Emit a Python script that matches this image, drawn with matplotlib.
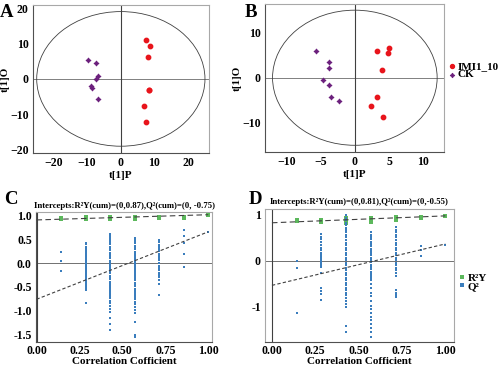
import matplotlib
matplotlib.use('Agg')
import matplotlib.pyplot as plt
from matplotlib.patches import Ellipse

plt.rcParams['font.family'] = ['Liberation Serif', 'DejaVu Serif']
plt.rcParams['font.weight'] = 'bold'

# ---- score plots (OPLS-DA) ----
a_imi_x = [7.4, 8.6, 8.0, 8.3, 8.5, 7.0, 7.5]
a_imi_y = [11.0, 9.2, 6.2, -3.0, -3.2, -7.6, -12.2]
a_ck_x = [-9.9, -7.3, -6.8, -7.3, -9.0, -8.6, -6.9]
a_ck_y = [5.3, 4.4, 0.75, 0.0, -1.9, -2.5, -5.8]

b_imi_x = [3.2, 5.0, 4.9, 3.9, 3.2, 2.4, 4.1]
b_imi_y = [5.9, 6.6, 5.6, 1.8, -4.4, -6.3, -8.8]
b_ck_x = [-5.7, -3.8, -3.7, -4.7, -3.8, -3.5, -2.3]
b_ck_y = [5.9, 3.6, 2.2, -0.4, -1.7, -4.4, -5.1]

# Hotelling ellipse half widths
a_ellipse = (25.0, 19.0)
b_ellipse = (12.0, 15.1)

# ---- permutation tests ----
corr = [1/7, 2/7, 3/7, 4/7, 5/7, 6/7, 1.0]

c_r2y = [[0.94, 0.95], [0.93, 0.95, 0.97], [0.93, 0.95, 0.97], [0.94, 0.96, 0.98],
         [0.95, 0.97], [0.96, 0.98], [1.01]]
c_q2 = [[0.23, 0.04, -0.16],
        [0.43, 0.40, 0.35, 0.31, 0.27, 0.24, 0.19, 0.16, 0.12, 0.08, 0.05, 0.01, -0.03, -0.07,
         -0.10, -0.15, -0.19, -0.22, -0.27, -0.31, -0.35, -0.40, -0.43, -0.48, -0.52, -0.57, -0.83],
        [0.61, 0.57, 0.53, 0.48, 0.44, 0.40, 0.35, 0.31, 0.27, 0.22, 0.18, 0.14, 0.10, 0.05, 0.01,
         -0.04, -0.08, -0.12, -0.17, -0.21, -0.26, -0.30, -0.34, -0.39, -0.43, -0.47, -0.52, -0.56,
         -0.61, -0.65, -0.70, -0.74, -0.79, -0.84, -0.90, -0.96, -1.03, -1.15, -1.27, -1.41],
        [0.54, 0.50, 0.46, 0.42, 0.37, 0.33, 0.29, 0.24, 0.20, 0.16, 0.11, 0.07, 0.03, -0.02,
         -0.06, -0.10, -0.15, -0.19, -0.23, -0.28, -0.32, -0.36, -0.41, -0.45, -0.49, -0.54,
         -0.58, -0.62, -0.67, -0.71, -0.76, -0.81, -0.86, -0.92, -0.98, -1.04, -1.24, -1.52, -1.55],
        [0.49, 0.44, 0.39, 0.34, 0.30, 0.25, 0.20, 0.15, 0.10, 0.06, 0.01, -0.05, -0.10, -0.15,
         -0.20, -0.25, -0.30, -0.36, -0.43, -0.68],
        [0.70, 0.57, 0.42, 0.19, -0.08],
        [0.65]]
c_r2y_line = (0.91, 1.02)   # value at x=0 and x=1
c_q2_line = (-0.76, 0.66)

d_r2y = [[0.85, 0.88], [0.84, 0.87, 0.89], [0.82, 0.86, 0.90, 0.93], [0.84, 0.88, 0.93],
         [0.87, 0.91, 0.94], [0.92, 0.94], [0.96]]
d_q2 = [[-0.02, -0.16, -1.15],
        [0.58, 0.52, 0.47, 0.40, 0.33, 0.28, 0.22, 0.16, 0.12, 0.08, 0.03, -0.02, -0.06, -0.10,
         -0.14, -0.28, -0.60, -0.66, -0.72, -0.85],
        [0.98, 0.93, 0.88, 0.82, 0.77, 0.71, 0.66, 0.61, 0.55, 0.50, 0.44, 0.39, 0.33, 0.28,
         0.22, 0.17, 0.11, 0.06, 0.01, -0.05, -0.10, -0.16, -0.21, -0.27, -0.32, -0.38, -0.43,
         -0.48, -0.54, -0.60, -0.65, -0.71, -0.76, -0.82, -0.88, -0.94, -1.01, -1.42, -1.56],
        [0.61, 0.56, 0.51, 0.46, 0.41, 0.36, 0.31, 0.26, 0.21, 0.16, 0.11, 0.06, 0.01, -0.04,
         -0.09, -0.14, -0.19, -0.24, -0.29, -0.34, -0.39, -0.43, -0.52, -0.60, -0.70, -0.78,
         -0.88, -0.98, -1.05, -1.14, -1.22, -1.30, -1.38, -1.46, -1.55, -1.66],
        [0.72, 0.67, 0.61, 0.56, 0.50, 0.45, 0.39, 0.34, 0.28, 0.23, 0.17, 0.12, 0.06, 0.01,
         -0.05, -0.10, -0.16, -0.21, -0.27, -0.33, -0.65, -0.70, -0.75, -0.79],
        [0.32, 0.22, 0.09],
        [0.33]]
d_r2y_line = (0.82, 0.97)
d_q2_line = (-0.54, 0.36)

red = '#e8141b'
purple = '#6b1f7c'
green = '#5cb85c'
blue = '#3a7dbd'
frame = '#a8a8a8'
dark = '#505050'

fig = plt.figure(figsize=(5, 3.73), dpi=100)


def style(ax, dark_sides=('left', 'bottom')):
    for side, sp in ax.spines.items():
        sp.set_color(dark if side in dark_sides else frame)
        sp.set_linewidth(0.8)
    ax.tick_params(length=0, labelsize=8.5, pad=3)
    for lab in ax.get_xticklabels() + ax.get_yticklabels():
        lab.set_fontweight('bold')


def score_plot(ax, imi_x, imi_y, ck_x, ck_y, ell, xlim, ylim, xt, yt):
    ax.axhline(0, color='#808080', lw=0.7, zorder=1)
    ax.axvline(0, color='#404040', lw=0.8, zorder=1)
    ax.add_patch(Ellipse((0, 0), 2 * ell[0], 2 * ell[1], fill=False, ec='#404040', lw=0.6))
    ax.scatter(imi_x, imi_y, s=10, color=red, zorder=3, label='IMI1_10')
    ax.scatter(ck_x, ck_y, s=10, color=purple, marker=(4, 1, 0), zorder=3, label='CK')
    ax.set_xlim(*xlim)
    ax.set_ylim(*ylim)
    ax.set_xticks(xt)
    ax.set_yticks(yt)
    ax.set_xlabel('t[1]P', fontsize=8, fontweight='bold', labelpad=1)
    ax.set_ylabel('t[1]O', fontsize=8, fontweight='bold', labelpad=0)
    style(ax)


def perm_plot(ax, r2y, q2, r2y_line, q2_line, xlim, ylim, title):
    ax.axhline(0, color='#707070', lw=0.7, zorder=1)
    ax.axvline(0, color='#404040', lw=0.8, zorder=1)
    for x, vals in zip(corr, r2y):
        ax.plot([x] * len(vals), vals, ls='none', marker='s', ms=2.3, mew=0, color=green, zorder=3)
    for x, vals in zip(corr, q2):
        ax.plot([x] * len(vals), vals, ls='none', marker='s', ms=2.1, mew=0, color=blue, zorder=3)
    ax.plot([0, 1], r2y_line, ls=(0, (5, 3)), color='#404040', lw=0.8, zorder=4)
    ax.plot([0, 1], q2_line, ls=(0, (3, 2)), color='#404040', lw=0.8, zorder=4)
    ax.set_xlim(*xlim)
    ax.set_ylim(*ylim)
    ax.set_xticks([0, 0.25, 0.5, 0.75, 1.0])
    ax.set_xticklabels(['0.00', '0.25', '0.50', '0.75', '1.00'])
    ax.set_xlabel('Correlation Cofficient', fontsize=8, fontweight='bold', labelpad=0)
    ax.set_title(title, fontsize=6.3, fontweight='bold', pad=3)


# A
axA = fig.add_axes([0.066, 0.589, 0.352, 0.398])
score_plot(axA, a_imi_x, a_imi_y, a_ck_x, a_ck_y, a_ellipse, (-26.1, 26.2), (-21.0, 20.9),
           [-20, -10, 0, 10, 20], [-20, -10, 0, 10, 20])

# B
axB = fig.add_axes([0.53, 0.5925, 0.358, 0.397])
score_plot(axB, b_imi_x, b_imi_y, b_ck_x, b_ck_y, b_ellipse, (-13.1, 13.0), (-16.6, 16.5),
           [-10, -5, 0, 5, 10], [-10, 0, 10])
axB.legend(loc='center left', bbox_to_anchor=(1.0, 0.55), frameon=False, fontsize=8,
           handletextpad=0.1, labelspacing=-0.15, borderpad=0, handlelength=0.8,
           markerscale=0.9, borderaxespad=0.3)

# C
axC = fig.add_axes([0.072, 0.083, 0.352, 0.349])
perm_plot(axC, c_r2y, c_q2, c_r2y_line, c_q2_line, (-0.003, 1.022), (-1.66, 1.08),
          'Intercepts:R\u00b2Y(cum)=(0,0.87),Q\u00b2(cum)=(0, -0.75)')
axC.set_yticks([-1.5, -1.0, -0.5, 0.0, 0.5, 1.0])
axC.set_yticklabels(['-1.5', '-1.0', '-0.5', '0.0', '0.5', '1.0'])
style(axC)
axC.tick_params(axis='x', pad=2)

# D
axD = fig.add_axes([0.53, 0.082, 0.378, 0.359])
perm_plot(axD, d_r2y, d_q2, d_r2y_line, d_q2_line, (-0.04, 1.05), (-1.78, 1.13),
          'Intercepts:R\u00b2Y(cum)=(0,0.81),Q\u00b2(cum)=(0,-0.55)')
axD.set_yticks([-1, 0, 1])
axD.set_yticklabels(['-1', '0', '1'])
style(axD, dark_sides=('bottom',))
axD.tick_params(axis='x', pad=2)
axD.plot([], [], ls='none', marker='s', ms=2.5, mew=0, color=green, label='R\u00b2Y')
axD.plot([], [], ls='none', marker='s', ms=2.5, mew=0, color=blue, label='Q\u00b2')
axD.legend(loc='center left', bbox_to_anchor=(1.0, 0.45), frameon=False, fontsize=8,
           handletextpad=0.1, labelspacing=-0.15, borderpad=0, handlelength=0.8,
           borderaxespad=0.3)

# panel letters
for x, y, s in [(0.0, 0.955, 'A'), (0.49, 0.955, 'B'), (0.008, 0.452, 'C'), (0.498, 0.452, 'D')]:
    fig.text(x, y, s, fontsize=13.5, fontweight='bold')

fig.savefig('out.png', dpi=100)
